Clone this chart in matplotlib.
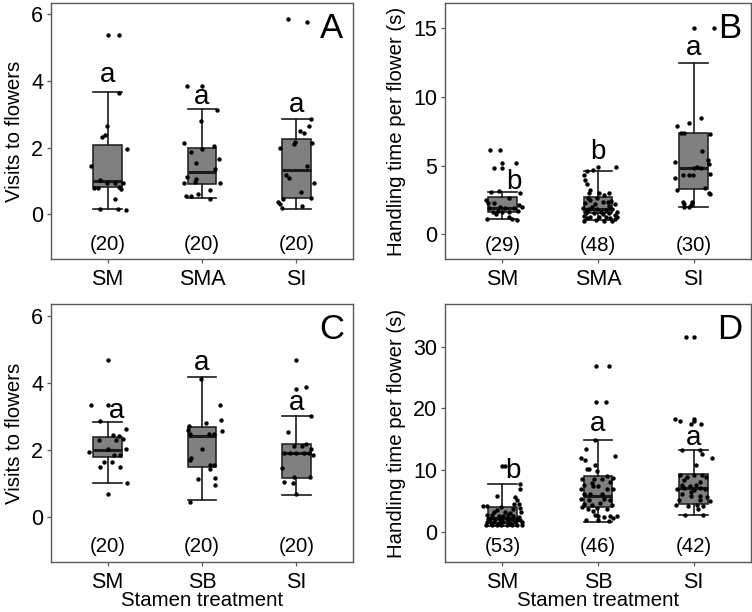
import numpy as np
import matplotlib
matplotlib.use('Agg')
import matplotlib.pyplot as plt

plt.rcParams['font.family'] = ['Liberation Sans', 'DejaVu Sans']

cats_top = ['SM', 'SMA', 'SI']
cats_bottom = ['SM', 'SB', 'SI']

# box stats: whisker low, q1, median, q3, whisker high
box_a = [[0.16, 0.83, 1.0, 2.08, 3.65], [0.5, 0.92, 1.26, 2.0, 3.15], [0.16, 0.5, 1.33, 2.25, 2.84]]
box_b = [[1.11, 1.65, 1.94, 2.74, 3.1], [1.04, 1.53, 1.84, 2.74, 4.62], [2.0, 3.27, 4.84, 7.39, 12.5]]
box_c = [[1.01, 1.8, 2.0, 2.39, 2.84], [0.51, 1.5, 2.41, 2.68, 4.17], [0.66, 1.16, 1.91, 2.18, 3.01]]
box_d = [[0.95, 1.5, 2.3, 4.1, 7.75], [1.6, 4.0, 5.9, 9.1, 14.95], [2.7, 4.6, 7.1, 9.45, 13.2]]

obs_a = [
    [5.38, 5.38, 3.63, 2.64, 2.38, 2.33, 1.96, 1.46, 1.03, 0.95, 0.95, 0.93, 0.78, 0.78, 0.81, 0.75, 0.47, 0.16, 0.16, 0.13],
    [3.84, 3.84, 3.12, 2.8, 2.15, 2.05, 1.95, 1.87, 1.65, 1.53, 1.35, 1.11, 1.05, 0.95, 0.97, 0.95, 0.72, 0.55, 0.55, 0.61, 0.45],
    [5.84, 5.77, 2.85, 2.64, 2.5, 2.45, 2.16, 2.1, 2.15, 1.98, 1.45, 1.18, 1.08, 0.95, 0.68, 0.49, 0.46, 0.38, 0.31, 0.18, 0.26],
]
jit_a = [
    [0.0, 0.12, 0.12, -0.01, -0.03, -0.06, 0.2, -0.18, -0.08, -0.01, 0.08, 0.16, -0.14, -0.1, 0.12, 0.14, 0.08, -0.08, 0.11, 0.19],
    [-0.16, 0.0, 0.16, -0.01, -0.19, 0.13, 0.0, -0.12, 0.18, -0.06, 0.14, -0.16, -0.06, -0.19, -0.07, 0.19, 0.08, -0.17, -0.12, -0.04, 0.08],
    [-0.09, 0.11, 0.15, 0.13, 0.04, 0.08, -0.01, -0.03, 0.17, -0.17, 0.11, -0.11, -0.08, 0.19, 0.05, 0.15, -0.14, -0.2, -0.17, -0.15, 0.06],
]
obs_b = [
    [6.13, 6.13, 5.23, 5.23, 4.84, 4.84, 3.1, 3.17, 2.98, 2.62, 2.54, 2.25, 2.13, 2.0, 1.89, 2.0, 1.89, 1.89, 1.64, 1.69,
     1.64, 1.6, 1.69, 1.24, 1.09, 1.04, 2.25, 1.45, 1.11],
    [4.91, 4.91, 4.67, 4.62, 4.31, 3.95, 3.66, 3.22, 3.03, 2.98, 2.86, 3.03, 2.66, 2.49, 2.37, 2.37, 2.3, 2.2, 2.2, 1.89,
     1.82, 1.82, 1.77, 1.82, 1.64, 1.53, 1.57, 1.48, 1.53, 1.4, 1.33, 1.24, 1.28, 1.24, 1.16, 1.24, 0.99, 1.04, 0.99, 0.99,
     2.0, 2.06, 1.64, 1.16, 1.09, 2.62, 1.7, 2.45],
    [15.0, 15.0, 8.48, 8.11, 7.92, 7.39, 7.39, 7.34, 6.05, 5.25, 5.4, 5.11, 4.91, 4.8, 4.31, 4.31, 4.31, 4.38, 4.14, 3.22,
     3.39, 3.02, 2.93, 2.37, 2.18, 2.37, 2.13, 2.0, 2.0, 4.84],
]
jit_b = [
    [-0.13, -0.03, 0.0, 0.14, -0.09, 0.0, -0.12, -0.04, 0.18, 0.07, -0.17, -0.09, 0.17, 0.2, -0.14, -0.02, 0.03, 0.12, -0.1, -0.05,
     0.0, 0.07, 0.16, 0.07, 0.1, 0.15, -0.15, -0.07, -0.16],
    [0.0, 0.19, -0.05, -0.11, -0.15, -0.14, -0.12, -0.08, -0.09, 0.01, 0.06, 0.12, -0.1, -0.08, 0.05, 0.1, -0.14, -0.03, 0.18, -0.16,
     -0.09, -0.01, 0.08, 0.15, 0.2, -0.13, -0.04, 0.05, 0.11, 0.18, -0.15, -0.08, 0.01, 0.08, 0.13, 0.2, -0.15, -0.02, 0.06, 0.15,
     -0.06, 0.115, 0.03, -0.11, 0.18, -0.01, -0.12, 0.14],
    [0.0, 0.21, 0.08, -0.045, -0.17, -0.13, -0.1, 0.17, 0.09, -0.19, 0.15, 0.16, 0.04, 0.08, -0.11, -0.05, -0.01, 0.17, -0.19, -0.17,
     0.12, 0.16, 0.17, -0.11, -0.1, -0.02, -0.03, -0.045, -0.1, 0.0],
]
obs_c = [
    [4.68, 3.35, 3.34, 2.86, 2.62, 2.45, 2.41, 2.33, 2.29, 2.29, 1.94, 2.03, 2.03, 1.84, 1.84, 1.63, 1.63, 1.49, 1.49, 1.02, 0.67],
    [4.12, 3.35, 2.89, 2.56, 2.81, 2.71, 2.58, 2.47, 2.47, 2.47, 2.04, 1.76, 1.69, 1.55, 1.55, 1.44, 1.12, 1.16, 0.95, 0.45],
    [4.68, 3.83, 3.89, 3.01, 2.54, 2.18, 2.11, 2.11, 2.03, 1.91, 1.91, 1.91, 1.91, 1.91, 1.84, 1.45, 1.19, 1.19, 1.04, 1.0, 0.69],
]
jit_c = [
    [0.0, -0.18, 0.0, -0.08, 0.19, 0.06, 0.12, 0.16, -0.09, 0.09, -0.2, 0.0, 0.19, 0.07, 0.13, -0.04, 0.05, -0.08, 0.13, 0.2, 0.0],
    [-0.01, 0.19, 0.2, 0.21, 0.04, -0.14, -0.15, -0.13, 0.07, 0.13, 0.0, -0.12, -0.13, 0.08, 0.13, 0.08, -0.04, 0.14, 0.14, -0.13],
    [0.0, 0.0, 0.1, 0.16, -0.09, 0.1, -0.03, 0.06, 0.15, -0.13, -0.07, 0.0, 0.08, 0.13, 0.18, -0.15, -0.03, 0.14, -0.13, -0.04, 0.0],
]
obs_d = [
    [10.69, 10.69, 7.83, 6.91, 5.78, 5.67, 5.13, 4.6, 4.6, 4.16, 4.16, 4.05, 3.89, 3.68, 3.24, 3.51, 3.24, 3.14, 3.24, 2.7,
     2.7, 2.59, 2.59, 2.7, 2.59, 2.43, 2.06, 2.17, 2.06, 2.17, 2.06, 1.89, 2.0, 1.62, 1.62, 1.52, 1.62, 1.52, 1.62, 1.62,
     1.2, 1.08, 1.2, 1.08, 1.2, 1.08, 1.2, 1.2, 2.17, 1.89, 1.73, 1.4, 1.3],
    [26.8, 26.8, 21.0, 21.0, 14.96, 13.39, 12.26, 12.04, 11.72, 10.91, 10.26, 10.15, 9.88, 9.02, 8.64, 8.64, 8.64, 8.74, 8.0, 8.1,
     7.45, 7.45, 7.67, 6.91, 6.91, 7.02, 6.22, 6.22, 6.22, 5.41, 5.13, 5.29, 5.13, 4.6, 4.44, 4.76, 4.32, 4.05, 3.79, 3.89,
     3.79, 3.35, 2.82, 2.59, 2.43, 2.59, 2.59, 2.27, 1.89, 1.89, 1.78],
    [31.5, 31.5, 18.35, 17.9, 18.35, 17.9, 17.4, 17.5, 13.23, 13.23, 12.69, 11.98, 10.8, 9.18, 8.9, 9.18, 9.29, 8.9, 8.37, 8.1,
     7.56, 7.45, 7.67, 6.91, 7.12, 7.12, 7.02, 6.48, 6.75, 6.22, 5.83, 5.83, 5.67, 5.13, 5.13, 4.97, 4.32, 4.21, 4.32, 4.21,
     3.79, 2.7, 2.7],
]
jit_d = [
    [0.0, 0.025, 0.185, 0.185, -0.06, 0.13, 0.15, 0.125, 0.17, -0.2, -0.16, -0.01, 0.185, 0.115, -0.09, -0.06, 0.03, 0.08, 0.19, -0.16,
     -0.11, -0.04, 0.01, 0.06, 0.115, 0.17, -0.15, -0.08, -0.02, 0.045, 0.1, 0.15, 0.185, -0.16, -0.09, -0.04, 0.01, 0.08, 0.13, 0.2,
     -0.17, -0.11, -0.06, -0.01, 0.045, 0.1, 0.15, 0.2, -0.13, -0.01, 0.06, -0.12, 0.07],
    [-0.025, 0.12, -0.025, 0.08, -0.03, -0.13, 0.18, -0.18, -0.14, -0.03, -0.12, -0.098, -0.01, 0.09, -0.17, -0.04, 0.04, 0.16, -0.06, 0.13,
     -0.05, 0.0, -0.15, -0.18, 0.09, 0.16, -0.15, -0.08, 0.04, -0.18, -0.098, 0.06, 0.13, -0.15, -0.06, 0.02, 0.146, -0.17, -0.1, -0.01,
     0.09, -0.05, -0.03, 0.0, 0.06, 0.13, 0.2, 0.16, -0.13, 0.0, 0.12],
    [-0.084, 0.0, -0.2, -0.146, 0.0, 0.0, 0.073, -0.03, -0.12, 0.07, 0.09, 0.19, 0.03, -0.14, -0.07, 0.0, 0.09, 0.13, -0.1, 0.07,
     -0.12, -0.04, 0.02, -0.17, -0.1, 0.07, 0.12, -0.03, 0.0, -0.12, -0.03, 0.07, 0.14, -0.15, 0.07, 0.17, -0.18, -0.06, 0.035, 0.1,
     0.05, -0.09, 0.1],
]

# significance letters, their heights, and sample sizes
letters_a, letter_y_a, letter_dx_a = ['a', 'a', 'a'], [4.16, 3.52, 3.27], [0, 0, 0]
letters_b, letter_y_b, letter_dx_b = ['b', 'b', 'a'], [3.8, 6.0, 13.6], [0.12, 0, 0]
letters_c, letter_y_c, letter_dx_c = ['a', 'a', 'a'], [3.15, 4.6, 3.39], [0.1, 0, 0]
letters_d, letter_y_d, letter_dx_d = ['b', 'a', 'a'], [9.8, 17.5, 15.2], [0.115, 0, 0]
n_a, n_b, n_c, n_d = [20, 20, 20], [29, 48, 30], [20, 20, 20], [53, 46, 42]
count_y = {'A': -0.92, 'B': -0.78, 'C': -0.88, 'D': -2.32}

EDGE = '#1a1a1a'
FRAME = '#595959'
FS = 14.7


def panel(ax, cats, boxes, obs, jit, letters, ly, ldx, ns, tag, ylim, yticks, ylabel, xlabel=None):
    pos = np.arange(1, len(cats) + 1)
    stats = [dict(whislo=b[0], q1=b[1], med=b[2], q3=b[3], whishi=b[4], fliers=[]) for b in boxes]
    ax.bxp(stats, positions=pos, widths=0.3, capwidths=0.3, patch_artist=True, showfliers=False,
           boxprops=dict(facecolor='#808080', edgecolor=EDGE, linewidth=1.1),
           medianprops=dict(color=EDGE, linewidth=2.2),
           whiskerprops=dict(color=EDGE, linewidth=1.2),
           capprops=dict(color=EDGE, linewidth=1.2))
    for i in range(len(cats)):
        ax.scatter(pos[i] + np.array(jit[i]), obs[i], s=10, color='black', linewidths=0, zorder=4)
        ax.text(pos[i] + ldx[i], ly[i], letters[i], ha='center', va='center', fontsize=20, zorder=5)
        ax.text(pos[i], count_y[tag], f'({ns[i]})', ha='center', va='center', fontsize=FS)
    ax.text(0.93, 0.9, tag, transform=ax.transAxes, ha='center', va='center', fontsize=25)
    ax.set_xlim(0.4, 3.6)
    ax.set_ylim(*ylim)
    ax.set_xticks(pos)
    ax.set_xticklabels(cats)
    ax.set_yticks(yticks)
    ax.tick_params(axis='both', length=3, width=0.9, color=FRAME, labelsize=15.5)
    ax.tick_params(axis='x', pad=4)
    ax.tick_params(axis='y', pad=2.5)
    for sp in ax.spines.values():
        sp.set_color(FRAME)
        sp.set_linewidth(1.0)
    ax.set_ylabel(ylabel, fontsize=FS, labelpad=5)
    if xlabel:
        ax.set_xlabel(xlabel, fontsize=FS, labelpad=-1)


fig = plt.figure(figsize=(7.52, 6.12), dpi=100)
ax_a = fig.add_axes([51 / 752, 353 / 612, 302 / 752, 256 / 612])
ax_b = fig.add_axes([445 / 752, 353 / 612, 306 / 752, 256 / 612])
ax_c = fig.add_axes([51 / 752, 50 / 612, 302 / 752, 258 / 612])
ax_d = fig.add_axes([445 / 752, 50 / 612, 306 / 752, 258 / 612])

panel(ax_a, cats_top, box_a, obs_a, jit_a, letters_a, letter_y_a, letter_dx_a, n_a, 'A',
      (-1.34, 6.33), [0, 2, 4, 6], 'Visits to flowers')
panel(ax_b, cats_top, box_b, obs_b, jit_b, letters_b, letter_y_b, letter_dx_b, n_b, 'B',
      (-1.79, 16.84), [0, 5, 10, 15], 'Handling time per flower (s)')
panel(ax_c, cats_bottom, box_c, obs_c, jit_c, letters_c, letter_y_c, letter_dx_c, n_c, 'C',
      (-1.35, 6.36), [0, 2, 4, 6], 'Visits to flowers', 'Stamen treatment')
panel(ax_d, cats_bottom, box_d, obs_d, jit_d, letters_d, letter_y_d, letter_dx_d, n_d, 'D',
      (-4.86, 36.9), [0, 10, 20, 30], 'Handling time per flower (s)', 'Stamen treatment')

fig.savefig('out.png', dpi=100)
